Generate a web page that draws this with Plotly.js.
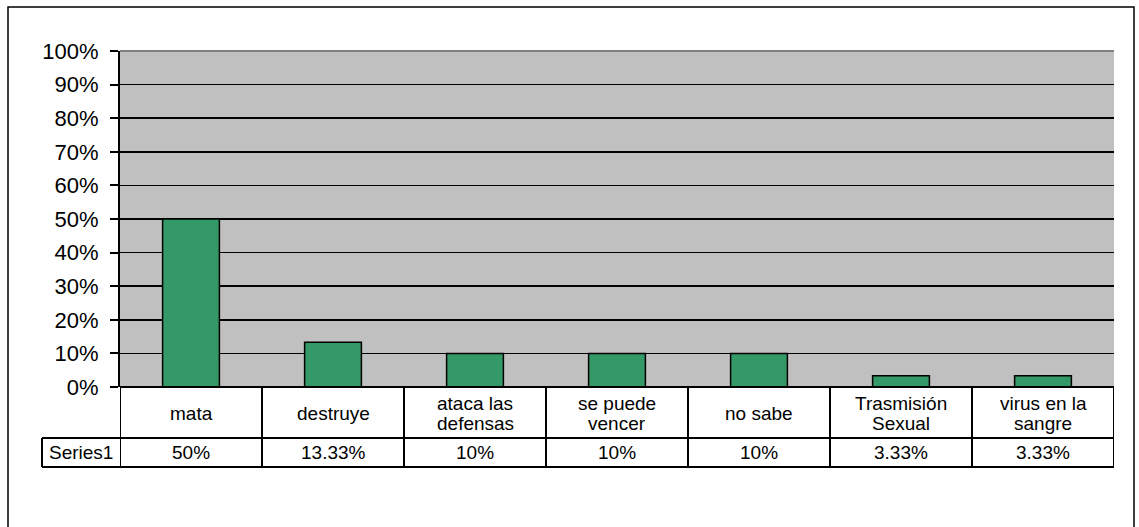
<!DOCTYPE html>
<html><head><meta charset="utf-8">
<script src="https://cdn.plot.ly/plotly-3.0.1.min.js"></script>
<style>html,body{margin:0;padding:0;background:#fff}</style>
</head><body><div id="chart" style="width:1139px;height:527px"></div>
<script>
const categories = ["mata", "destruye", "ataca las<br>defensas", "se puede<br>vencer", "no sabe", "Trasmisión<br>Sexual", "virus en la<br>sangre"];
const values = [0.5, 0.1333, 0.10, 0.10, 0.10, 0.0333, 0.0333];
const valueLabels = ["50%", "13.33%", "10%", "10%", "10%", "3.33%", "3.33%"];
const seriesName = "Series1";
const yTickVals = [0, 0.1, 0.2, 0.3, 0.4, 0.5, 0.6, 0.7, 0.8, 0.9, 1.0];

const W = 1139, H = 527;
const L = 120, R = 1114, T = 51, B = 387;
const py = p => (B - p) / (B - T);
const px = p => (p - L) / (R - L);
const FONT = 'Arial, "Liberation Sans", sans-serif';

const xs = categories.map((c, i) => i);
const n = categories.length;

const shapes = [];
const lineStyle = {color: '#000', width: 2};
// outer chart border
shapes.push({type: 'rect', xref: 'paper', yref: 'paper', x0: px(8), x1: px(1134), y0: py(560), y1: py(7), line: {color: '#000', width: 1.5}, fillcolor: 'rgba(0,0,0,0)', layer: 'below'});
// top edge of plot area
shapes.push({type: 'line', xref: 'paper', yref: 'paper', x0: 0, x1: 1, y0: 1, y1: 1, line: {color: '#808080', width: 2}});
// table horizontal lines
shapes.push({type: 'line', xref: 'paper', yref: 'paper', x0: 0, x1: 1, y0: py(387), y1: py(387), line: lineStyle});
shapes.push({type: 'line', xref: 'paper', yref: 'paper', x0: px(42), x1: 1, y0: py(438), y1: py(438), line: lineStyle});
shapes.push({type: 'line', xref: 'paper', yref: 'paper', x0: px(42), x1: 1, y0: py(467), y1: py(467), line: lineStyle});
// series label cell left border
shapes.push({type: 'line', xref: 'paper', yref: 'paper', x0: px(42), x1: px(42), y0: py(438), y1: py(467), line: lineStyle});
// column boundaries
for (let i = 0; i <= n; i++) {
  shapes.push({type: 'line', xref: 'x', yref: 'paper', x0: i - 0.5, x1: i - 0.5, y0: py(387), y1: py(467), line: lineStyle});
}

const annotations = [];
categories.forEach((c, i) => {
  const lines = c.split('<br>');
  lines.forEach((t, j) => {
    const yc = 413 + (j - (lines.length - 1) / 2) * 20;
    annotations.push({x: i, xref: 'x', y: py(yc), yref: 'paper', text: t, showarrow: false,
      xanchor: 'center', yanchor: 'middle', font: {family: FONT, size: 19, color: '#000'}});
  });
});
valueLabels.forEach((v, i) => {
  annotations.push({x: i, xref: 'x', y: py(452.5), yref: 'paper', text: v, showarrow: false,
    xanchor: 'center', yanchor: 'middle', font: {family: FONT, size: 19, color: '#000'}});
});
annotations.push({x: px(81), xref: 'paper', y: py(452.5), yref: 'paper', text: seriesName, showarrow: false,
  xanchor: 'center', yanchor: 'middle', font: {family: FONT, size: 19, color: '#000'}});

const trace = {
  type: 'bar', x: xs, y: values, name: seriesName,
  marker: {color: '#339966', line: {color: '#000', width: 1.5}},
  hoverinfo: 'none'
};

const layout = {
  width: W, height: H,
  margin: {l: L, r: W - R, t: T, b: H - B, pad: 0},
  paper_bgcolor: '#fff', plot_bgcolor: '#C0C0C0',
  showlegend: false, bargap: 0.6,
  font: {family: FONT, color: '#000'},
  xaxis: {range: [-0.5, n - 0.5], showticklabels: false, ticks: '', showgrid: false, zeroline: false,
    showline: false, fixedrange: true},
  yaxis: {range: [0, 1], tickvals: yTickVals.slice(0, -1), tickformat: '.0%', ticks: 'outside', ticklen: 8, tickwidth: 2,
    tickcolor: '#000', showgrid: true, gridcolor: '#000', gridwidth: 1.5, zeroline: false,
    showline: true, linecolor: '#000', linewidth: 2, ticklabelstandoff: 7,
    tickfont: {family: FONT, size: 22, color: '#000'}, fixedrange: true},
  shapes: shapes, annotations: annotations
};
// 100% tick drawn explicitly with tickvals including 1.0
layout.yaxis.tickvals = yTickVals;

Plotly.newPlot('chart', [trace], layout, {displayModeBar: false, staticPlot: true});
</script></body></html>
